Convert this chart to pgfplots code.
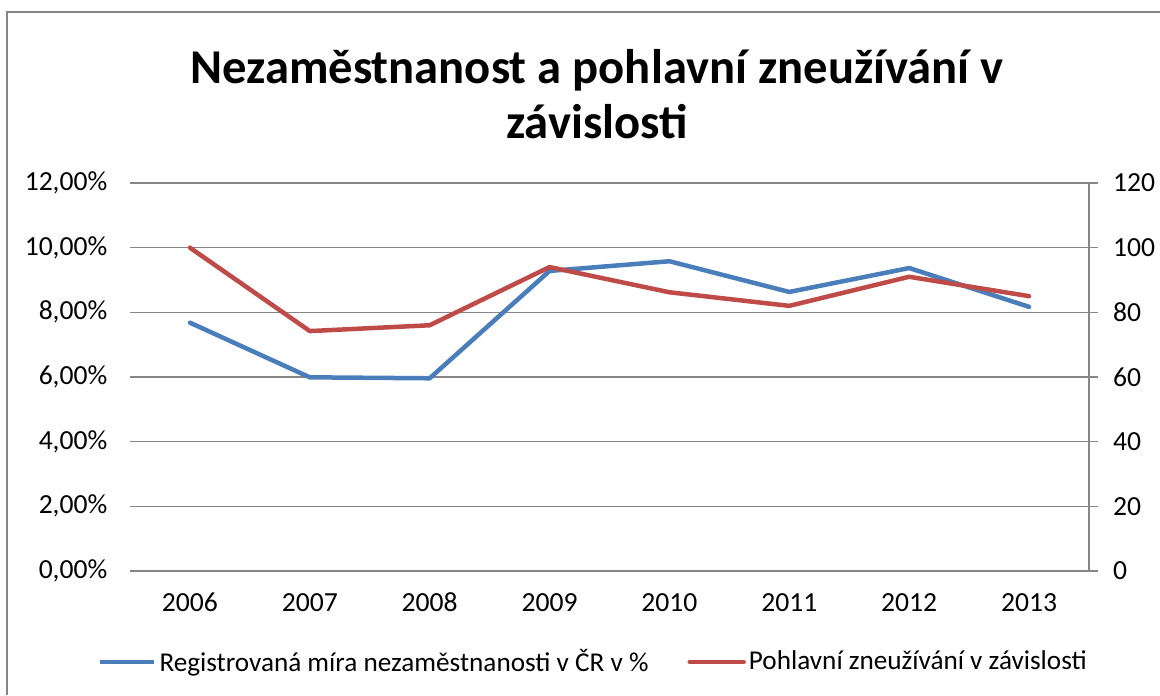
\documentclass[border=0pt]{standalone}
\usepackage{fontspec}
\setmainfont{Carlito}
\usepackage{pgfplots}
\pgfplotsset{compat=1.18}

\definecolor{cblue}{RGB}{74,126,187}
\definecolor{cred}{RGB}{190,75,72}
\definecolor{cgrid}{RGB}{134,134,134}

\pgfplotsset{
  /pgf/number format/assume math mode=true,
  base/.style={
    scale only axis, width=479.5pt, height=194pt,
    at={(65pt,62pt)}, anchor=south west,
    xmin=-0.5, xmax=7.5,
    tick label style={font=\fontsize{13.8}{16}\selectfont},
  },
}

\begin{document}
\begin{tikzpicture}
\useasboundingbox (0,0) rectangle (580pt,347.5pt);
\draw[cgrid, line width=0.75pt] (3.5pt,0) -- (3.5pt,341.5pt) -- (580pt,341.5pt);
\node[font=\fontsize{24.3}{28}\selectfont\bfseries, anchor=base] at (298.5pt,305.5pt) {Nezaměstnanost a pohlavní zneužívání v};
\node[font=\fontsize{24.3}{28}\selectfont\bfseries, anchor=base] at (298.5pt,278pt) {závislosti};

% left axis: unemployment rate in %
\begin{axis}[base,
  ymin=0, ymax=12, ytick={0,2,...,12},
  yticklabel={\pgfmathprintnumber[fixed,fixed zerofill,precision=2,use comma]{\tick}\%},
  xtick={0,...,7},
  xticklabels={2006,2007,2008,2009,2010,2011,2012,2013},
  ymajorgrids, grid style={cgrid, line width=0.65pt},
  axis line style={draw=none}, major tick length=0pt,
  yticklabel style={xshift=-7.8pt},
  xticklabel style={anchor=base, yshift=-20.5pt},
]
\addplot[cblue, line width=2.25pt, line join=round, line cap=round] coordinates {
  (0,7.68) (1,5.99) (2,5.96) (3,9.28) (4,9.58) (5,8.63) (6,9.37) (7,8.17)
};
\end{axis}

% right axis: cases
\begin{axis}[base,
  ymin=0, ymax=120, ytick={0,20,...,120},
  axis y line*=right, axis x line=none,
  y axis line style={cgrid, line width=0.75pt},
  tick align=outside, major tick length=4.5pt,
  ytick style={cgrid, line width=0.75pt},
  yticklabel style={xshift=4pt},
  legend style={at={(0.4838,-0.2345)}, anchor=center, draw=none, fill=none,
    legend columns=2, font=\fontsize{13.6}{16}\selectfont,
    nodes={inner xsep=1.5pt},
    /tikz/every even column/.append style={column sep=18pt}},
  legend image code/.code={\draw[#1] (0pt,0pt) -- (27pt,0pt);},
]
\addlegendimage{cblue, line width=2.25pt}
\addlegendentry{Registrovaná míra nezaměstnanosti v ČR v \%}
\addplot[cred, line width=2.25pt, line join=round, line cap=round] coordinates {
  (0,100) (1,74.2) (2,76) (3,94) (4,86.2) (5,82) (6,91) (7,85)
};
\addlegendentry{Pohlavní zneužívání v závislosti}
\end{axis}
\end{tikzpicture}
\end{document}
